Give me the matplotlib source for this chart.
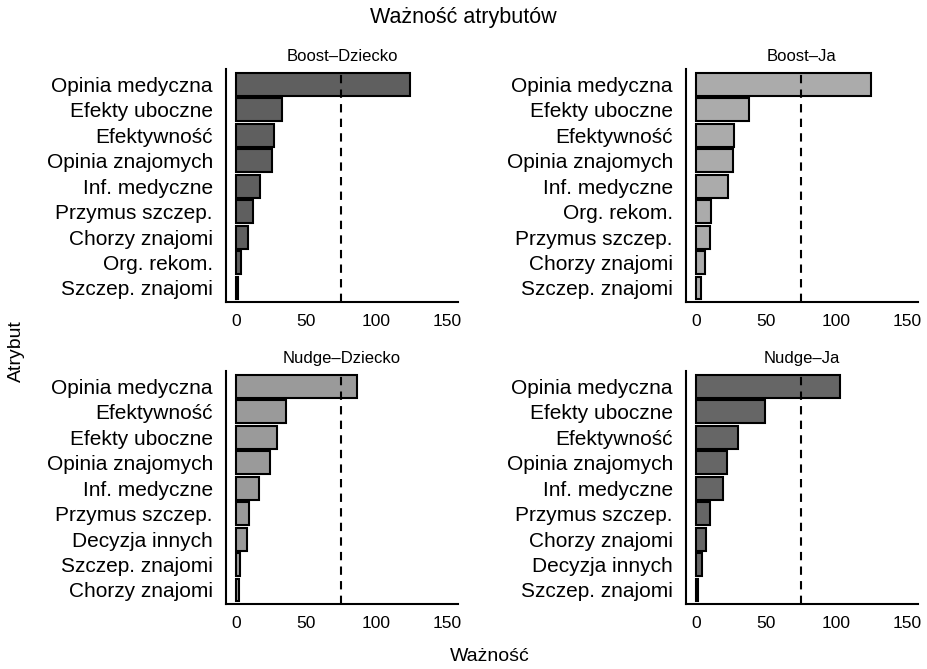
import matplotlib
matplotlib.use('Agg')
import matplotlib.pyplot as plt

plt.rcParams['font.family'] = ['Liberation Sans', 'DejaVu Sans']

# attribute importance per condition, listed from largest to smallest
boost_dziecko_labels = ['Opinia medyczna', 'Efekty uboczne', 'Efektywność', 'Opinia znajomych',
                        'Inf. medyczne', 'Przymus szczep.', 'Chorzy znajomi', 'Org. rekom.',
                        'Szczep. znajomi']
boost_dziecko_values = [123.5, 33, 27, 26, 17.5, 12, 8.5, 4, 1.5]

boost_ja_labels = ['Opinia medyczna', 'Efekty uboczne', 'Efektywność', 'Opinia znajomych',
                   'Inf. medyczne', 'Org. rekom.', 'Przymus szczep.', 'Chorzy znajomi',
                   'Szczep. znajomi']
boost_ja_values = [124.5, 37.5, 27.5, 26.5, 23, 10.5, 10, 6.5, 3.5]

nudge_dziecko_labels = ['Opinia medyczna', 'Efektywność', 'Efekty uboczne', 'Opinia znajomych',
                        'Inf. medyczne', 'Przymus szczep.', 'Decyzja innych', 'Szczep. znajomi',
                        'Chorzy znajomi']
nudge_dziecko_values = [86.5, 36, 29.5, 24.5, 16.5, 9, 8, 3, 2.5]

nudge_ja_labels = ['Opinia medyczna', 'Efekty uboczne', 'Efektywność', 'Opinia znajomych',
                   'Inf. medyczne', 'Przymus szczep.', 'Chorzy znajomi', 'Decyzja innych',
                   'Szczep. znajomi']
nudge_ja_values = [102.5, 49.5, 30, 22, 19, 10, 7, 4.5, 1.5]

threshold = 75

panels = [
    ('Boost–Dziecko', boost_dziecko_labels, boost_dziecko_values, '#5f5f5f', [0.2438, 0.5486]),
    ('Boost–Ja', boost_ja_labels, boost_ja_values, '#ababab', [0.7400, 0.5486]),
    ('Nudge–Dziecko', nudge_dziecko_labels, nudge_dziecko_values, '#9a9a9a', [0.2438, 0.0972]),
    ('Nudge–Ja', nudge_ja_labels, nudge_ja_values, '#666666', [0.7400, 0.0972]),
]

fig = plt.figure(figsize=(9.27, 6.69), dpi=100)

for title, labels, values, color, (x0, y0) in panels:
    ax = fig.add_axes([x0, y0, 0.2503, 0.348])
    pos = list(range(len(labels)))[::-1]
    ax.barh(pos, values, height=0.9, color=color, edgecolor='black', linewidth=1.5)
    ax.axvline(threshold, color='black', linestyle=(0, (4, 3)), linewidth=1.5)
    ax.set_yticks(pos)
    ax.set_yticklabels(labels, fontsize=15)
    ax.set_xticks([0, 50, 100, 150])
    ax.tick_params(axis='x', labelsize=12.5, length=0, pad=9)
    ax.tick_params(axis='y', length=0, pad=9.5)
    ax.set_xlim(-7, 158)
    ax.set_ylim(-0.55, 8.6)
    for s in ['top', 'right']:
        ax.spines[s].set_visible(False)
    for s in ['left', 'bottom']:
        ax.spines[s].set_linewidth(1.5)
    ax.set_title(title, fontsize=12, pad=6)

fig.text(0.5, 0.974, 'Ważność atrybutów', ha='center', va='center', fontsize=15.5)
fig.text(0.528, 0.018, 'Ważność', ha='center', va='center', fontsize=14)
fig.text(0.018, 0.475, 'Atrybut', ha='center', va='center', rotation=90, fontsize=14)

plt.savefig('out.png', dpi=100)
